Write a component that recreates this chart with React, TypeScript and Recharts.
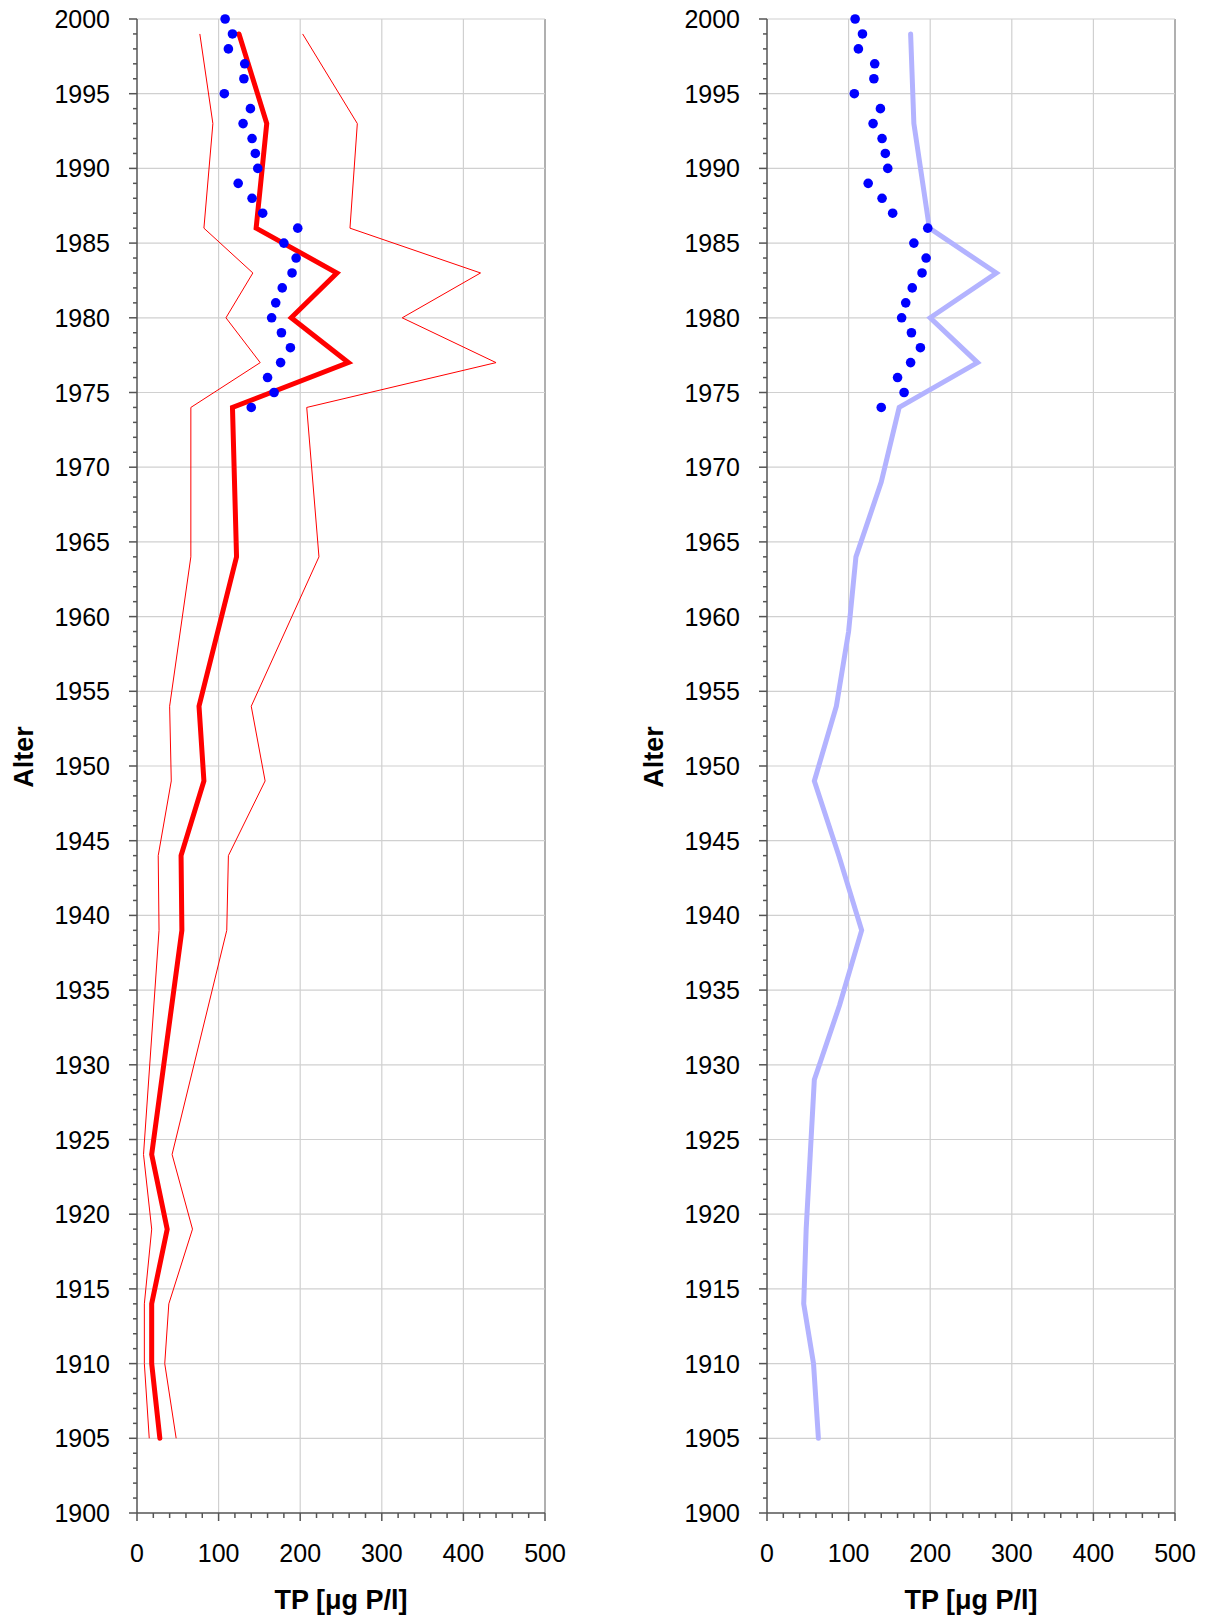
import React from 'react';
import { ReferenceLine, Scatter, ScatterChart, XAxis, YAxis } from 'recharts';

// observed TP (blue dots), one value per year 2000 .. 1974
const obsYears = [
  2000, 1999, 1998, 1997, 1996, 1995, 1994, 1993, 1992, 1991, 1990, 1989, 1988, 1987,
  1986, 1985, 1984, 1983, 1982, 1981, 1980, 1979, 1978, 1977, 1976, 1975, 1974,
];
const obsTP = [
  108, 117, 112, 132, 131, 107, 139, 130, 141, 145, 148, 124, 141, 154,
  197, 180, 195, 190, 178, 170, 165, 177, 188, 176, 160, 168, 140,
];

// left panel: inferred TP (thick red) with lower / upper error band (thin red)
const infYears = [1905, 1910, 1914, 1919, 1924, 1939, 1944, 1949, 1954, 1964, 1974, 1977, 1980, 1983, 1986, 1993, 1999];
const infTP = [28, 18, 18, 37, 18, 55, 54, 82, 76, 122, 117, 259, 189, 245, 146, 159, 125];
const infLow = [15, 9, 9, 18, 8, 27, 26, 42, 40, 66, 66, 151, 109, 142, 82, 93, 77];
const infHigh = [48, 34, 39, 68, 43, 110, 112, 157, 140, 223, 208, 440, 325, 421, 261, 270, 203];

// right panel: light blue reconstruction
const recYears = [1905, 1910, 1914, 1919, 1924, 1929, 1934, 1939, 1944, 1949, 1954, 1959, 1964, 1969, 1974, 1977, 1980, 1983, 1986, 1993, 1999];
const recTP = [63, 57, 45, 48, 53, 58, 89, 116, 88, 58, 85, 100, 109, 140, 162, 258, 200, 281, 199, 180, 176];

const xMajor = [0, 100, 200, 300, 400, 500];
const yMajor = [1900, 1905, 1910, 1915, 1920, 1925, 1930, 1935, 1940, 1945, 1950, 1955, 1960, 1965, 1970, 1975, 1980, 1985, 1990, 1995, 2000];
const xTicks = Array.from({ length: 26 }, (_, i) => i * 20);
const yTicks = Array.from({ length: 101 }, (_, i) => 1900 + i);

const FONT = '"Liberation Sans", Arial, sans-serif';
const AXIS = '#555555';
const GRID = '#d0d0d0';

const pts = (years: number[], vals: number[]) => years.map((year, i) => ({ year, tp: vals[i] }));

function YTick(props: any) {
  const { x, y, payload } = props;
  const major = payload.value % 5 === 0;
  return (
    <g>
      <line x1={x - (major ? 8 : 4)} x2={x} y1={y} y2={y} stroke={AXIS} strokeWidth={1.5} />
      {major && (
        <text x={x - 27} y={y} textAnchor="end" dominantBaseline="central" fontSize={25} fontFamily={FONT} fill="#000">
          {payload.value}
        </text>
      )}
    </g>
  );
}

function XTick(props: any) {
  const { x, y, payload } = props;
  const major = payload.value % 100 === 0;
  return (
    <g>
      <line x1={x} x2={x} y1={y} y2={y + (major ? 8 : 5)} stroke={AXIS} strokeWidth={1.5} />
      {major && (
        <text x={x} y={y + 40} textAnchor="middle" dominantBaseline="central" fontSize={25} fontFamily={FONT} fill="#000">
          {payload.value}
        </text>
      )}
    </g>
  );
}

function Title(props: any) {
  const { tx, ty, rot, text } = props;
  return (
    <g transform={`translate(${tx} ${ty}) rotate(${rot || 0})`}>
      <text
        x={0}
        y={0}
        textAnchor="middle"
        dominantBaseline={rot ? 'central' : 'auto'}
        fontSize={27}
        fontWeight="bold"
        fontFamily={FONT}
        fill="#000"
      >
        {text}
      </text>
    </g>
  );
}

const noDot = () => <g />;
const blueDot = (p: any) => <circle cx={p.cx} cy={p.cy} r={4.8} fill="#0000ff" />;

function Panel({ left, children }: { left: number; children: React.ReactNode }) {
  return (
    <div style={{ position: 'absolute', left, top: 0 }}>
      <ScatterChart width={580} height={1617} margin={{ top: 19, right: 35, bottom: 8, left: 0 }}>
        <XAxis
          type="number"
          dataKey="tp"
          domain={[0, 500]}
          ticks={xTicks}
          interval={0}
          tickSize={0}
          tickMargin={0}
          tickLine={false}
          tick={<XTick />}
          height={96}
          axisLine={{ stroke: AXIS, strokeWidth: 1.5 }}
          label={<Title tx={341} ty={1609} text="TP [μg P/l]" />}
        />
        <YAxis
          type="number"
          dataKey="year"
          domain={[1900, 2000]}
          ticks={yTicks}
          interval={0}
          tickSize={0}
          tickMargin={0}
          tickLine={false}
          tick={<YTick />}
          width={137}
          axisLine={{ stroke: AXIS, strokeWidth: 1.5 }}
          label={<Title tx={24} ty={757} rot={-90} text="Alter" />}
        />
        {xMajor.slice(1).map((v) => (
          <ReferenceLine key={'x' + v} x={v} stroke={v === 500 ? '#b0b0b0' : GRID} strokeWidth={v === 500 ? 2 : 1.2} />
        ))}
        {yMajor.slice(1).map((v) => (
          <ReferenceLine key={'y' + v} y={v} stroke={GRID} strokeWidth={1.2} />
        ))}
        {children}
      </ScatterChart>
    </div>
  );
}

export default function App() {
  return (
    <div style={{ position: 'absolute', left: 0, top: 0, width: 1209, height: 1617, background: '#fff' }}>
      <Panel left={0}>
        <Scatter data={pts(infYears, infLow)} shape={noDot} line={{ stroke: '#ff0000', strokeWidth: 1 }} isAnimationActive={false} />
        <Scatter data={pts(infYears, infHigh)} shape={noDot} line={{ stroke: '#ff0000', strokeWidth: 1 }} isAnimationActive={false} />
        <Scatter
          data={pts(infYears, infTP)}
          shape={noDot}
          line={{ stroke: '#ff0000', strokeWidth: 5, strokeLinecap: 'round' }}
          isAnimationActive={false}
        />
        <Scatter data={pts(obsYears, obsTP)} shape={blueDot} isAnimationActive={false} />
      </Panel>
      <Panel left={630}>
        <Scatter
          data={pts(recYears, recTP)}
          shape={noDot}
          line={{ stroke: '#b3b3ff', strokeWidth: 5, strokeLinecap: 'round' }}
          isAnimationActive={false}
        />
        <Scatter data={pts(obsYears, obsTP)} shape={blueDot} isAnimationActive={false} />
      </Panel>
    </div>
  );
}
